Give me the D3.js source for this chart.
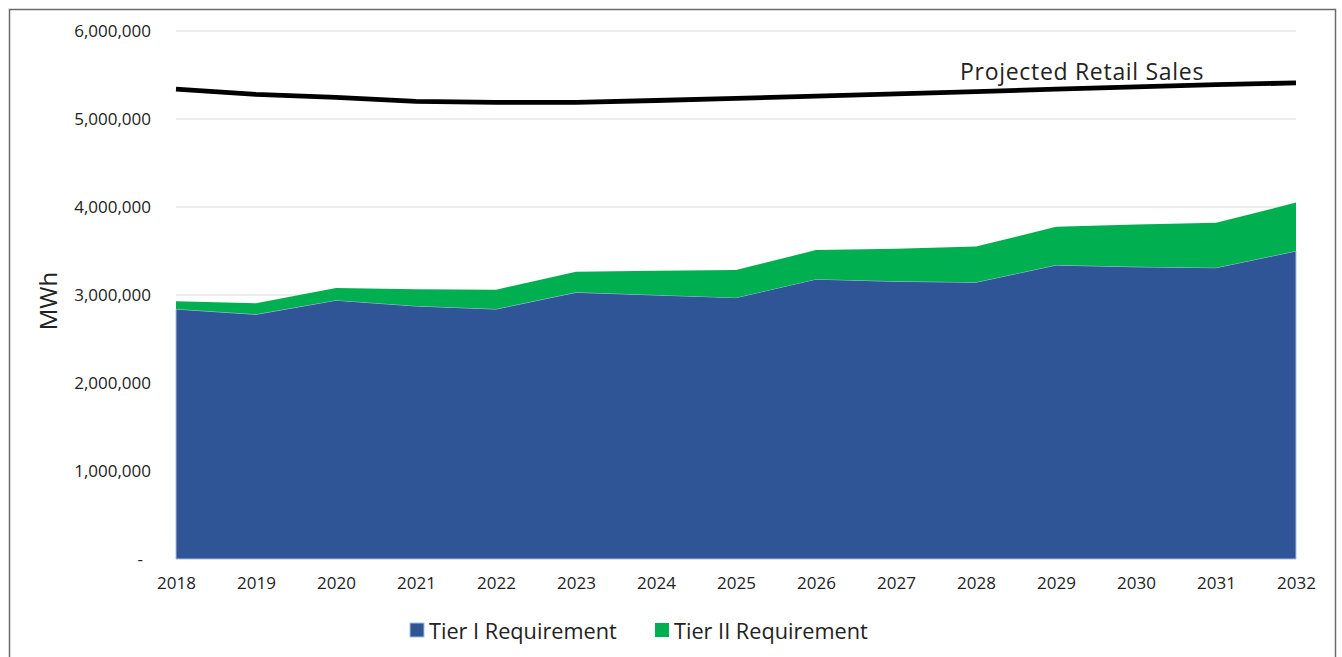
<!DOCTYPE html>
<html>
<head>
<meta charset="utf-8">
<script src="https://cdn.jsdelivr.net/npm/d3@7"></script>
<style>
  body { margin: 0; background: #fff; }
  text { font-family: "Open Sans", Lato, sans-serif; fill: #222; }
</style>
</head>
<body>
<div id="theChart"></div>
<script>
const years = [2018, 2019, 2020, 2021, 2022, 2023, 2024, 2025, 2026, 2027, 2028, 2029, 2030, 2031, 2032]
const tierOne = [2840000, 2780000, 2940000, 2875000, 2840000, 3030000, 3000000, 2970000, 3180000, 3155000, 3145000, 3340000, 3320000, 3310000, 3500000]
const tierTwo = [90000, 125000, 140000, 190000, 220000, 235000, 275000, 315000, 330000, 370000, 405000, 436000, 480000, 510000, 550000]
const retailSales = [5340000, 5280000, 5245000, 5200000, 5190000, 5190000, 5210000, 5235000, 5260000, 5285000, 5310000, 5340000, 5365000, 5390000, 5410000]
const yTicks = [0, 1000000, 2000000, 3000000, 4000000, 5000000, 6000000]
const seriesNames = ["Tier I Requirement", "Tier II Requirement"]
const seriesColors = ["#2F5597", "#00B050"]

const w = 1342
const h = 657
const plotLeft = 176, plotRight = 1296, plotTop = 31, plotBottom = 559
const font = "'Open Sans', Lato, sans-serif"

const svg = d3.select("#theChart").append("svg")
	.attr("width", w)
	.attr("height", h)

// frame around the whole chart
svg.append("rect")
	.attr("x", 9.5).attr("y", 9.5)
	.attr("width", 1326).attr("height", 700)
	.attr("fill", "none")
	.attr("stroke", "#6b6b6b")
	.attr("stroke-width", 1.5)

const x = d3.scaleLinear().domain([years[0], years[years.length - 1]]).range([plotLeft, plotRight])
const y = d3.scaleLinear().domain([0, 6000000]).range([plotBottom, plotTop])

// gridlines
svg.append("g")
	.selectAll("line")
	.data(yTicks.slice(1))
	.enter()
	.append("line")
	.attr("x1", plotLeft).attr("x2", plotRight)
	.attr("y1", d => y(d)).attr("y2", d => y(d))
	.attr("stroke", "#d9d9d9")
	.attr("stroke-width", 1.2)

// stacked areas
const rows = years.map((yr, i) => ({ year: yr, t1: tierOne[i], t2: tierTwo[i] }))
const stacked = d3.stack().keys(["t1", "t2"])(rows)

const area = d3.area()
	.x(d => x(d.data.year))
	.y0(d => y(d[0]))
	.y1(d => y(d[1]))

svg.append("g")
	.selectAll("path")
	.data(stacked)
	.enter()
	.append("path")
	.attr("d", area)
	.attr("fill", (d, i) => seriesColors[i])
	.attr("stroke", (d, i) => i === 0 ? "#a9bde3" : "none")
	.attr("stroke-width", 1)

// projected retail sales line
const line = d3.line()
	.x((d, i) => x(years[i]))
	.y(d => y(d))

svg.append("path")
	.datum(retailSales)
	.attr("d", line)
	.attr("fill", "none")
	.attr("stroke", "#000")
	.attr("stroke-width", 4.8)

svg.append("text")
	.attr("x", 960).attr("y", 80)
	.style("font-size", "23px")
	.style("letter-spacing", "0.7px")
	.text("Projected Retail Sales")

// y axis labels (no axis line)
const yAxis = d3.axisLeft(y)
	.tickValues(yTicks)
	.tickSize(0)
	.tickPadding(25)
	.tickFormat(d => d === 0 ? "-" : d3.format(",")(d))

const gy = svg.append("g").attr("transform", `translate(${plotLeft},0)`).call(yAxis)
gy.select(".domain").remove()
gy.selectAll("text")
	.style("font-size", "17px")
	.style("font-family", font)
	.attr("fill", "#222")
gy.selectAll(".tick")
	.filter(d => d === 0)
	.select("text")
	.attr("dx", "-8")

// x axis labels
const xAxis = d3.axisBottom(x)
	.tickValues(years)
	.tickSize(0)
	.tickPadding(18)
	.tickFormat(d3.format("d"))

const gx = svg.append("g").attr("transform", `translate(0,${plotBottom})`).call(xAxis)
gx.select(".domain").remove()
gx.selectAll("text")
	.style("font-size", "17px")
	.style("font-family", font)
	.attr("fill", "#222")

svg.append("text")
	.attr("transform", "translate(57,301) rotate(-90)")
	.attr("text-anchor", "middle")
	.style("font-size", "24px")
	.text("MWh")

// legend
const legendX = [410, 655]
const legend = svg.append("g")
legend.selectAll("rect")
	.data(seriesNames)
	.enter()
	.append("rect")
	.attr("x", (d, i) => legendX[i])
	.attr("y", 623)
	.attr("width", 14).attr("height", 14)
	.attr("fill", (d, i) => seriesColors[i])
	.attr("stroke", (d, i) => i === 0 ? "#a9bde3" : "none")

legend.selectAll("text")
	.data(seriesNames)
	.enter()
	.append("text")
	.attr("x", (d, i) => legendX[i] + 19)
	.attr("y", 639)
	.style("font-size", "21.7px")
	.text(d => d)
</script>
</body>
</html>
